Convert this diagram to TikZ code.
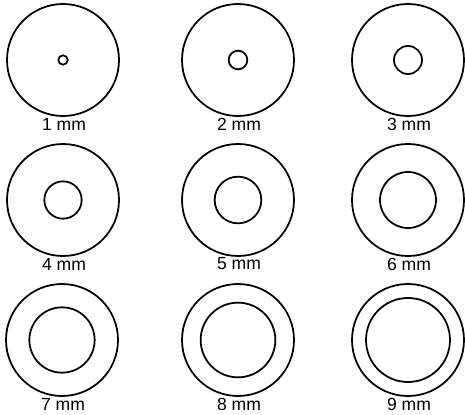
\documentclass[tikz,border=0pt]{standalone}
\usepackage{fontspec}
\setmainfont{Liberation Sans}
\usetikzlibrary{positioning}
\begin{document}
\begin{tikzpicture}[
  x=0.03cm, y=-0.03cm,
  font=\fontsize{15}{17}\selectfont,
  ring/.style={draw, circle, line width=1.5pt, inner sep=0pt},
  sizelabel/.style={inner sep=0pt}
]
\useasboundingbox (0,0) rectangle (465,415);
\foreach \i/\x/\y in {
  1/63/60, 2/238/60, 3/408/60,
  4/63/200, 5/238/200, 6/408/200,
  7/62/340, 8/238/340, 9/408/340
}{
  \node[ring, minimum size=3.36cm] (outer\i) at (\x,\y) {};
  \node[ring, minimum size=\i*0.28cm] (inner\i) at (\x,\y) {};
  \node[sizelabel] (lab\i) at (\x+1,\y+64) {\i{} mm};
}
\end{tikzpicture}
\end{document}
